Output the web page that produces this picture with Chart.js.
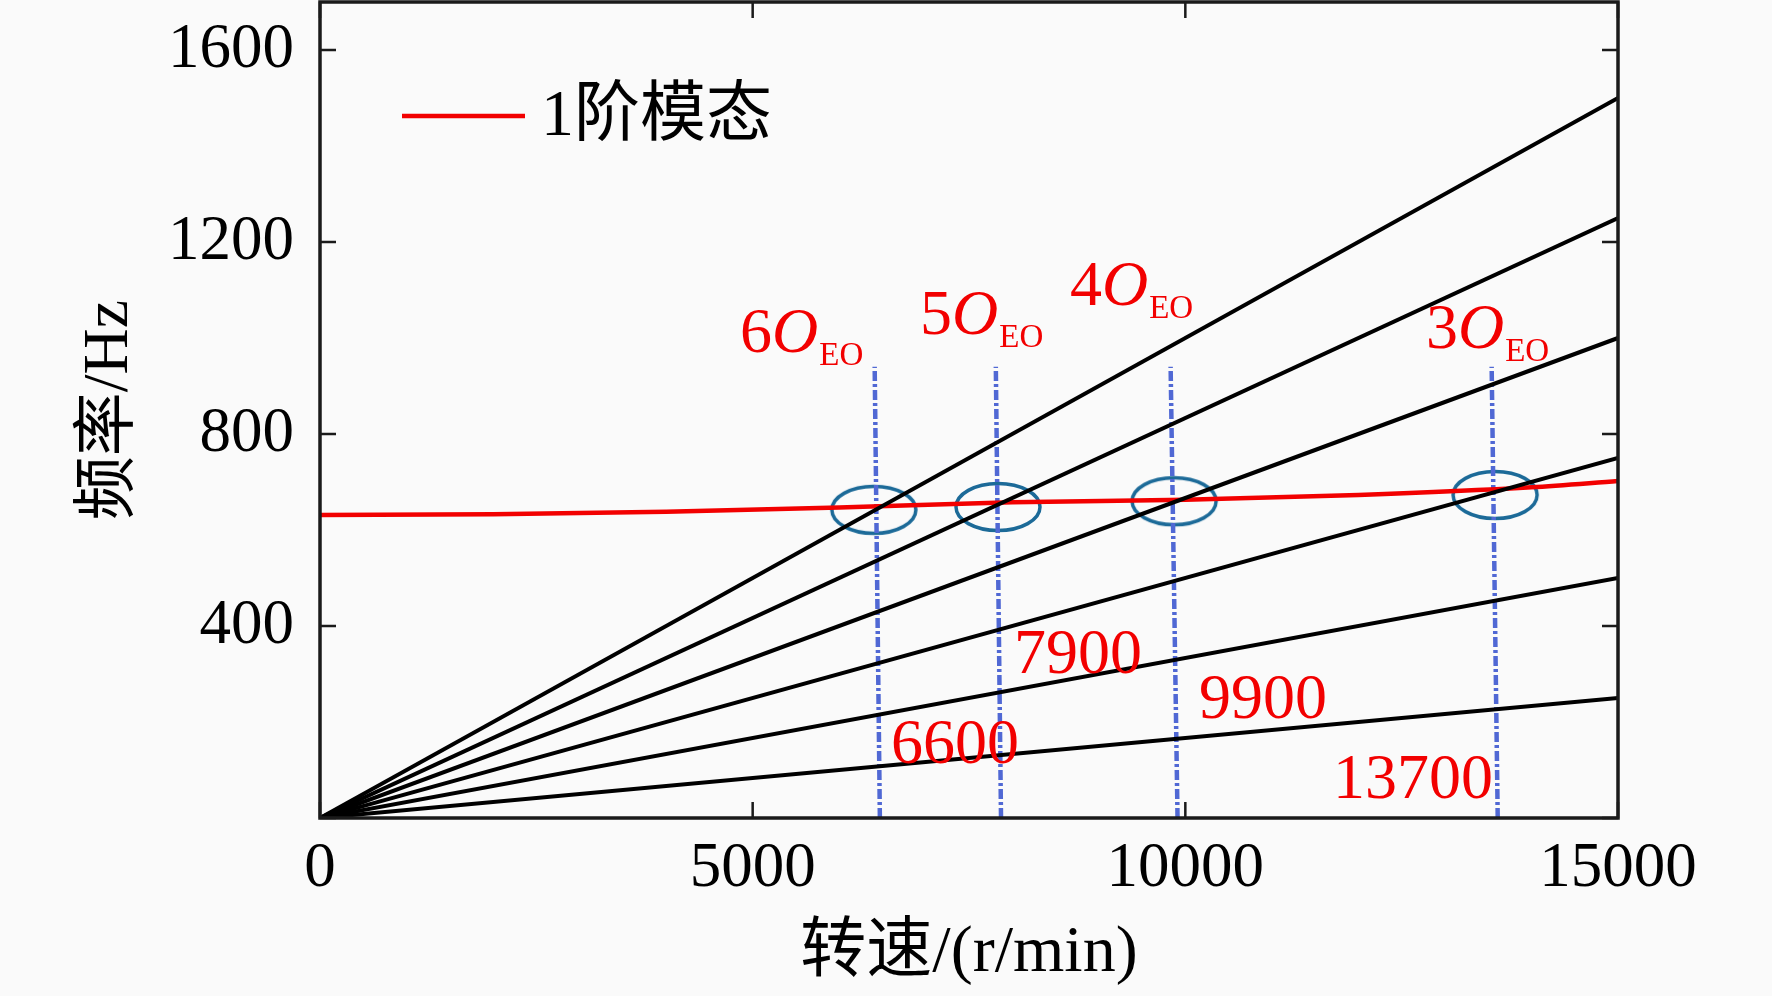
<!DOCTYPE html>
<html><head><meta charset="utf-8">
<script src="https://cdn.jsdelivr.net/npm/chart.js@4/dist/chart.umd.min.js"></script>
<style>html,body{margin:0;padding:0;background:#fafafa;overflow:hidden}canvas{display:block}</style>
</head><body>
<canvas id="c" width="1772" height="996" style="width:1772px;height:996px"></canvas>
<script>
// ---- data ----
const speedRange = [0, 15000];                       // r/min
const orderLineEndHz = [250, 500, 750, 1000, 1250, 1500]; // value at 15000 r/min
const modeSpeed = [0, 2000, 4000, 6000, 8000, 10000, 12000, 14000, 15000];
const modeHz    = [631, 633, 638, 647, 658, 663, 673, 689, 702];
const critLabels = ['6600', '7900', '9900', '13700'];
const critBottomSpeed = [6470, 7870, 9910, 13610];
const critTopSpeed    = [6410, 7810, 9830, 13540];
const critTopHz = 940;
const ellipseSpeed = [6400, 7835, 9870, 13580];
const ellipseHz    = [642, 648, 660, 673];
const orderNames = ['6', '5', '4', '3'];
const orderTextSpeed = [4854, 6934, 8667, 12781];
const orderTextHz    = [971, 1008, 1069, 979];
const critTextSpeed = [6599, 8020, 10158, 11706];
const critTextHz    = [115, 302, 208, 42];
const xTicks = [0, 5000, 10000, 15000];
const yTicks = [0, 400, 800, 1200, 1600];
const yMax = 1700;
const legendLabel = '1阶模态';
const xTitle = '转速/(r/min)';
const yTitle = '频率/Hz';

const SERIF = '"Liberation Serif", "Times New Roman", "Noto Sans CJK SC", serif';
const RED = '#f20000';

// ellipse marker drawn as an image point style
const ell = document.createElement('canvas');
ell.width = 96; ell.height = 56;
(function(){
  const g = ell.getContext('2d');
  g.strokeStyle = '#1c6a98'; g.lineWidth = 3.5;
  g.beginPath(); g.ellipse(48, 28, 42, 23.5, 0, 0, Math.PI * 2); g.stroke();
})();

const datasets = [];
orderLineEndHz.forEach(v => {
  datasets.push({
    type: 'line',
    data: [{x: speedRange[0], y: 0}, {x: speedRange[1], y: v}],
    borderColor: '#000', borderWidth: 4, pointRadius: 0, fill: false
  });
});
datasets.push({
  type: 'line',
  data: modeSpeed.map((s, i) => ({x: s, y: modeHz[i]})),
  borderColor: RED, borderWidth: 4.5, pointRadius: 0, fill: false,
  cubicInterpolationMode: 'monotone'
});
critLabels.forEach((l, i) => {
  datasets.push({
    type: 'line',
    data: [{x: critBottomSpeed[i], y: 0}, {x: critTopSpeed[i], y: critTopHz}],
    borderColor: '#5068d4', borderWidth: 4.5, borderDash: [10, 3, 3, 3],
    pointRadius: 0, fill: false
  });
});
datasets.push({
  type: 'scatter',
  data: ellipseSpeed.map((s, i) => ({x: s, y: ellipseHz[i]})),
  pointStyle: ell, pointRadius: 20, showLine: false
});

const decor = {
  id: 'decor',
  afterDatasetsDraw(chart) {
    const {ctx, chartArea: a, scales: {x, y}} = chart;
    ctx.save();
    // box
    ctx.strokeStyle = '#1a1a1a'; ctx.lineWidth = 3.5;
    ctx.strokeRect(a.left, a.top, a.right - a.left, a.bottom - a.top);
    // inward ticks
    const TL = 16;
    ctx.lineWidth = 2.5;
    ctx.beginPath();
    xTicks.forEach(v => {
      const p = x.getPixelForValue(v);
      ctx.moveTo(p, a.bottom); ctx.lineTo(p, a.bottom - TL);
      ctx.moveTo(p, a.top); ctx.lineTo(p, a.top + TL);
    });
    yTicks.forEach(v => {
      const p = y.getPixelForValue(v);
      ctx.moveTo(a.left, p); ctx.lineTo(a.left + TL, p);
      ctx.moveTo(a.right, p); ctx.lineTo(a.right - TL, p);
    });
    ctx.stroke();
    // legend
    ctx.strokeStyle = RED; ctx.lineWidth = 4.5;
    ctx.beginPath(); ctx.moveTo(a.left + 82, a.top + 114); ctx.lineTo(a.left + 205, a.top + 114); ctx.stroke();
    ctx.fillStyle = '#000'; ctx.font = '66px ' + SERIF; ctx.textBaseline = 'middle'; ctx.textAlign = 'left';
    ctx.fillText(legendLabel, a.left + 221, a.top + 116);
    // order labels  nO_EO
    ctx.fillStyle = RED; ctx.textBaseline = 'alphabetic';
    orderNames.forEach((n, i) => {
      let px = x.getPixelForValue(orderTextSpeed[i]);
      const py = y.getPixelForValue(orderTextHz[i]);
      ctx.font = '64px ' + SERIF;
      ctx.fillText(n, px, py); px += ctx.measureText(n).width;
      ctx.font = 'italic 64px ' + SERIF;
      ctx.fillText('O', px, py); px += ctx.measureText('O').width + 1;
      ctx.font = '33px ' + SERIF;
      ctx.fillText('EO', px, py + 13);
    });
    // critical speed labels
    ctx.font = '64px ' + SERIF;
    critLabels.forEach((l, i) => {
      ctx.fillText(l, x.getPixelForValue(critTextSpeed[i]), y.getPixelForValue(critTextHz[i]));
    });
    ctx.restore();
  }
};

new Chart(document.getElementById('c'), {
  data: {datasets},
  options: {
    responsive: false, animation: false, devicePixelRatio: 1, events: [],
    layout: {autoPadding: false, padding: {top: 2, right: 154, bottom: 0, left: 0}},
    plugins: {legend: {display: false}, tooltip: {enabled: false}},
    scales: {
      x: {
        type: 'linear', min: speedRange[0], max: speedRange[1],
        afterBuildTicks: s => { s.ticks = xTicks.map(v => ({value: v})); },
        afterFit: s => { s.height = 178; s.paddingLeft = 0; s.paddingRight = 0; },
        grid: {display: false, drawTicks: false}, border: {display: false},
        ticks: {padding: 14, color: '#000', font: {family: SERIF, size: 63}, maxRotation: 0, autoSkip: false,
                callback: v => String(v)},
        title: {display: true, text: xTitle, color: '#000', font: {family: SERIF, size: 66}, padding: {top: 0, bottom: 3}}
      },
      y: {
        type: 'linear', min: 0, max: yMax,
        afterBuildTicks: s => { s.ticks = yTicks.map(v => ({value: v})); },
        afterFit: s => { s.width = 320; s.paddingTop = 0; s.paddingBottom = 0; },
        grid: {display: false, drawTicks: false}, border: {display: false},
        ticks: {padding: 26, color: '#000', font: {family: SERIF, size: 63}, autoSkip: false,
                callback: v => v === 0 ? '' : String(v)},
        title: {display: true, text: yTitle, color: '#000', font: {family: SERIF, size: 64}, padding: {top: 72, bottom: 0}}
      }
    }
  },
  plugins: [decor]
});
</script>
</body></html>
